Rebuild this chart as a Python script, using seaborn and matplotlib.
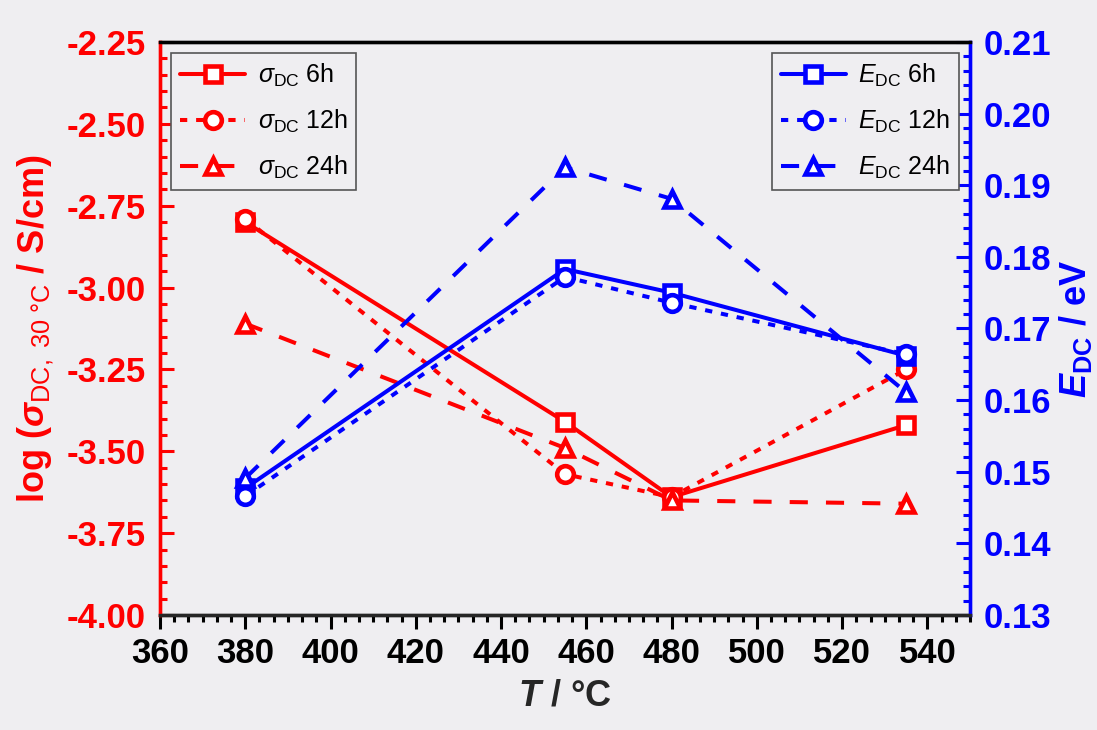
import matplotlib
matplotlib.use("Agg")
import matplotlib.pyplot as plt
import seaborn as sns
import numpy as np
import pandas as pd
from matplotlib.ticker import MultipleLocator, AutoMinorLocator

# ---- data ----
temps = [380, 455, 480, 535]
sigma_6h = [-2.80, -3.41, -3.64, -3.42]
sigma_12h = [-2.79, -3.57, -3.64, -3.25]
sigma_24h = [-3.11, -3.49, -3.65, -3.66]
E_6h = [0.1477, 0.1783, 0.1750, 0.1662]
E_12h = [0.1466, 0.1772, 0.1736, 0.1664]
E_24h = [0.1491, 0.1925, 0.1881, 0.1611]
x_ticks = [360, 380, 400, 420, 440, 460, 480, 500, 520, 540]
left_ticks = [-4.00, -3.75, -3.50, -3.25, -3.00, -2.75, -2.50, -2.25]
right_ticks = [0.13, 0.14, 0.15, 0.16, 0.17, 0.18, 0.19, 0.20, 0.21]

BG = "#efeef1"
sns.set_theme(style="ticks")
plt.rcParams["font.family"] = ["Liberation Sans", "DejaVu Sans"]
plt.rcParams["text.color"] = "black"
plt.rcParams["mathtext.fontset"] = "custom"
plt.rcParams["mathtext.rm"] = "Liberation Sans"
plt.rcParams["mathtext.it"] = "Liberation Sans:italic"
plt.rcParams["mathtext.bf"] = "Liberation Sans:bold"
plt.rcParams["mathtext.bfit"] = "Liberation Sans:italic:bold"

fig = plt.figure(figsize=(10.97, 7.30), dpi=100, facecolor=BG)
ax = fig.add_axes([160 / 1097, 1 - 615 / 730, 810 / 1097, 573 / 730])
ax.set_facecolor(BG)
ax2 = ax.twinx()

LW = 2.9
MS = 12
MEW = 3.3
dotted = (0, (1.8, 2.2))
dashed = (0, (4.5, 4.5))

def draw(a, y, color, marker, ls, label):
    sns.lineplot(x=temps, y=y, ax=a, color=color, marker=marker, linestyle=ls,
                 linewidth=LW, markersize=MS, markerfacecolor="white",
                 markeredgecolor=color, markeredgewidth=MEW, label=label,
                 legend=False)
    ln = a.lines[-1]
    ln.set_linewidth(LW)
    ln.set_markeredgewidth(MEW)
    ln.set_markersize(MS)
    ln.set_linestyle(ls)

draw(ax, sigma_6h, "red", "s", "-", r"$\sigma_{\rm DC}$ 6h")
draw(ax, sigma_12h, "red", "o", dotted, r"$\sigma_{\rm DC}$ 12h")
draw(ax, sigma_24h, "red", "^", dashed, r"$\sigma_{\rm DC}$ 24h")
draw(ax2, E_6h, "blue", "s", "-", r"$E_{\rm DC}$ 6h")
draw(ax2, E_12h, "blue", "o", dotted, r"$E_{\rm DC}$ 12h")
draw(ax2, E_24h, "blue", "^", dashed, r"$E_{\rm DC}$ 24h")

ax.set_xlim(360, 550)
ax.set_ylim(-4.00, -2.25)
ax2.set_ylim(0.13, 0.21)
ax.set_xticks(x_ticks)
ax.set_yticks(left_ticks)
ax2.set_yticks(right_ticks)
ax.set_xticklabels([str(v) for v in x_ticks])
ax.set_yticklabels([f"{v:.2f}" for v in left_ticks])
ax2.set_yticklabels([f"{v:.2f}" for v in right_ticks])
ax.xaxis.set_minor_locator(AutoMinorLocator(6))
ax.yaxis.set_minor_locator(AutoMinorLocator(5))
ax2.yaxis.set_minor_locator(AutoMinorLocator(5))

FS = 25
for sp in ["left", "right", "top", "bottom"]:
    ax.spines[sp].set_linewidth(2.4)
    ax2.spines[sp].set_linewidth(2.4)
ax2.spines["left"].set_color("red")
ax.spines["left"].set_color("red")
ax2.spines["right"].set_color("blue")
ax.spines["right"].set_color("blue")
ax.spines["top"].set_color("black")
ax2.spines["top"].set_color("black")
ax.spines["bottom"].set_color("black")

ax.tick_params(axis="x", which="major", direction="out", length=10, width=2.2, colors="black",
               labelsize=FS, pad=6)
ax.tick_params(axis="x", which="minor", direction="out", length=5, width=2.2, colors="black")
ax.tick_params(axis="y", which="major", direction="in", length=10, width=2.2, colors="red",
               labelsize=FS, pad=10)
ax.tick_params(axis="y", which="minor", direction="in", length=5, width=2.2, colors="red")
ax2.tick_params(axis="y", which="major", direction="in", length=10, width=2.2, colors="blue",
                labelsize=FS, pad=10)
ax2.tick_params(axis="y", which="minor", direction="in", length=5, width=2.2, colors="blue")
for lab in ax.get_xticklabels() + ax.get_yticklabels() + ax2.get_yticklabels():
    lab.set_fontweight("bold")

LFS = 26
ax.set_xlabel(r"$\mathbfit{T}$ / °C", fontsize=LFS, fontweight="bold", labelpad=6)
ax.set_ylabel(r"log ($\boldsymbol{\sigma}_{\rm DC,\ 30\ °C}$ / S/cm)", fontsize=LFS,
              fontweight="bold", color="red", labelpad=8)
ax2.set_ylabel(r"$\mathbfit{E}_{\mathbf{DC}}$ / eV", fontsize=LFS, fontweight="bold",
               color="blue", labelpad=4)

leg_kw = dict(fontsize=18, frameon=True, fancybox=False, edgecolor="#555555",
              facecolor=BG, framealpha=1, handlelength=2.6, borderpad=0.35,
              labelspacing=0.75, handletextpad=0.5, borderaxespad=0.45)
h1, l1 = ax.get_legend_handles_labels()
leg1 = ax.legend(h1, l1, loc="upper left", **leg_kw)
leg1.get_frame().set_linewidth(1.2)
h2, l2 = ax2.get_legend_handles_labels()
leg2 = ax2.legend(h2, l2, loc="upper right", **leg_kw)
leg2.get_frame().set_linewidth(1.2)

fig.savefig("out.png", dpi=100, facecolor=BG)
